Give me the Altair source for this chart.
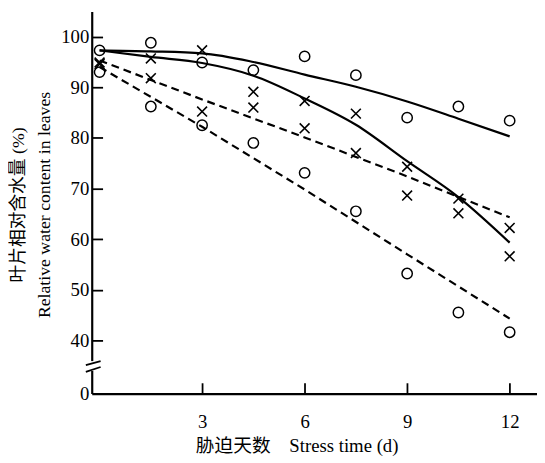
import altair as alt
import pandas as pd

# ---- data ----
days = [0, 1.5, 3, 4.5, 6, 7.5, 9, 10.5, 12]
circle_upper = [97.3, 98.8, 94.9, 93.4, 96.1, 92.4, 84.0, 86.2, 83.4]
circle_lower = [93.0, 86.2, 82.5, 79.0, 73.1, 65.5, 53.2, 45.5, 41.6]
cross_upper = [94.9, 95.7, 97.3, 89.1, 87.3, 84.8, 74.3, 68.0, 62.2]
cross_lower = [94.6, 91.8, 85.2, 86.0, 81.9, 77.0, 68.6, 65.1, 56.6]

curve_days = [0, 1.5, 3, 4.5, 6, 7.5, 9, 10.5, 12]
solid_top = [97.3, 97.1, 96.7, 95.0, 92.5, 90.1, 87.2, 83.8, 80.3]
solid_mid = [97.3, 96.0, 94.8, 92.3, 87.8, 82.6, 75.4, 68.3, 59.3]
dash_days = [0, 3, 6, 9, 12]
dashed_upper = [95.3, 87.6, 80.1, 72.4, 64.3]
dashed_lower = [94.0, 82.2, 69.8, 57.0, 44.3]

y_ticks = [0, 40, 50, 60, 70, 80, 90, 100]
x_ticks = [3, 6, 9, 12]

y_title = ["叶片相对含水量 (%)", "Relative water content in leaves"]
x_title = "胁迫天数　Stress time (d)"

# ---- tables ----
circles = pd.DataFrame({"day": days * 2, "value": circle_upper + circle_lower})
crosses = pd.DataFrame({"day": days * 2, "value": cross_upper + cross_lower})
solid = pd.DataFrame({
    "day": curve_days * 2,
    "value": solid_top + solid_mid,
    "curve": ["top"] * len(curve_days) + ["mid"] * len(curve_days),
})
dashed = pd.DataFrame({
    "day": dash_days * 2,
    "value": dashed_upper + dashed_lower,
    "curve": ["up"] * len(dash_days) + ["low"] * len(dash_days),
})

W, H = 452, 388
SERIF = "Liberation Serif, Noto Sans CJK SC"

x_scale = alt.Scale(domain=[-0.23, 12.8], nice=False, zero=False)
y_scale = alt.Scale(domain=[0, 35, 105], range=[H, 359.6, 0], nice=False, zero=False)

x_main = alt.Axis(values=x_ticks, ticks=False, tickSize=0, grid=False, domain=True,
                  domainColor="black", domainWidth=2.2, labelPadding=19,
                  labelFont=SERIF, labelFontSize=19, labelColor="black",
                  title=x_title, titleFont=SERIF, titleFontSize=19,
                  titleFontWeight="normal", titleColor="black",
                  titleX=208, titleY=59, titleBaseline="alphabetic", zindex=0)
x_ticks_axis = alt.Axis(orient="top", offset=-H, values=x_ticks, labels=False,
                        domain=False, grid=False, ticks=True, tickSize=11,
                        tickColor="black", tickWidth=1.8, title=None)
y_main = alt.Axis(values=y_ticks, ticks=False, tickSize=0, grid=False, domain=True,
                  domainColor="black", domainWidth=2.2, labelPadding=3,
                  labelFont=SERIF, labelFontSize=19, labelColor="black",
                  title=y_title, titleFont=SERIF, titleFontSize=18,
                  titleFontWeight="normal", titleColor="black",
                  titleLineHeight=26, titleAngle=270, titleAlign="center",
                  titleBaseline="middle", titleX=-74, titleY=196, zindex=0)
y_ticks_axis = alt.Axis(orient="right", offset=-W, values=[v for v in y_ticks if v > 0],
                        labels=False, domain=False, grid=False, ticks=True,
                        tickSize=11, tickColor="black", tickWidth=1.8, title=None)

solid_layer = alt.Chart(solid).mark_line(
    color="black", strokeWidth=2.2, interpolate="monotone"
).encode(
    x=alt.X("day:Q", scale=x_scale, axis=x_main),
    y=alt.Y("value:Q", scale=y_scale, axis=y_main),
    detail="curve:N",
)

dashed_layer = alt.Chart(dashed).mark_line(
    color="black", strokeWidth=2.2, strokeDash=[8, 5]
).encode(
    x=alt.X("day:Q", scale=x_scale, axis=x_ticks_axis),
    y=alt.Y("value:Q", scale=y_scale, axis=y_ticks_axis),
    detail="curve:N",
)

circle_layer = alt.Chart(circles).mark_point(
    shape="circle", size=110, filled=False, stroke="black", strokeWidth=1.5, opacity=1
).encode(
    x=alt.X("day:Q", scale=x_scale, axis=None),
    y=alt.Y("value:Q", scale=y_scale, axis=None),
)

cross_layer = alt.Chart(crosses).mark_point(
    shape="M-1,-1L1,1M-1,1L1,-1", size=100, filled=False, stroke="black",
    strokeWidth=1.6, opacity=1
).encode(
    x=alt.X("day:Q", scale=x_scale, axis=None),
    y=alt.Y("value:Q", scale=y_scale, axis=None),
)

one = pd.DataFrame({"k": [0]})
gap = alt.Chart(one).mark_rule(color="white", strokeWidth=5).encode(
    x=alt.value(0), y=alt.value(355), y2=alt.value(365)
)
brk1 = alt.Chart(one).mark_rule(color="black", strokeWidth=1.8).encode(
    x=alt.value(-6), x2=alt.value(9), y=alt.value(359), y2=alt.value(355)
)
brk2 = alt.Chart(one).mark_rule(color="black", strokeWidth=1.8).encode(
    x=alt.value(-6), x2=alt.value(9), y=alt.value(366), y2=alt.value(361)
)

chart = alt.layer(
    solid_layer, dashed_layer, circle_layer, cross_layer, gap, brk1, brk2
).resolve_axis(x="independent", y="independent").properties(
    width=W, height=H,
    autosize=alt.AutoSizeParams(type="none"),
    padding={"left": 85, "top": 0, "right": 0, "bottom": 67},
    background="white",
).configure_view(stroke=None)

chart.save("out.html", embed_options={"renderer": "svg", "actions": False})
